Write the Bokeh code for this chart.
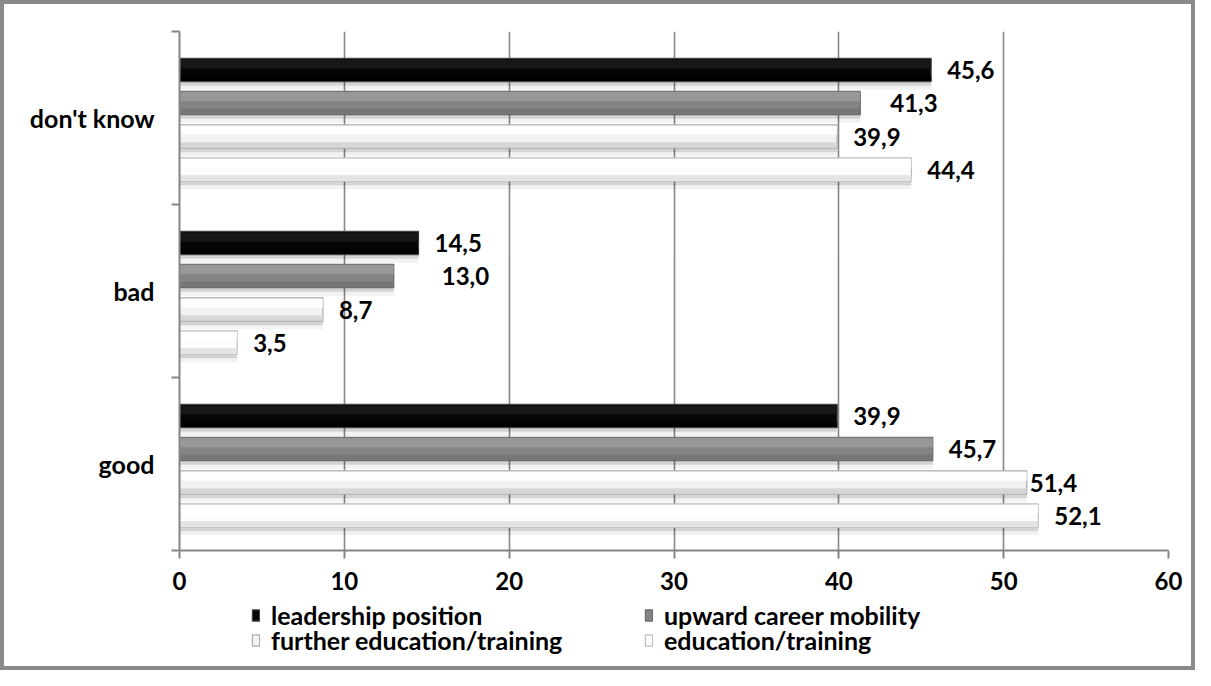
from bokeh.plotting import figure
from bokeh.layouts import column
from bokeh.models import FixedTicker, Legend, LegendItem, ColumnDataSource, Range1d
from bokeh.embed import file_html
from bokeh.resources import INLINE
from bokeh.core.properties import value

# ---------------- data ----------------
categories = ["good", "bad", "don't know"]
series_names = ["leadership position", "upward career mobility",
                "further education/training", "education/training"]
leadership_position = [39.9, 14.5, 45.6]
upward_career_mobility = [45.7, 13.0, 41.3]
further_education_training = [51.4, 8.7, 39.9]
education_training = [52.1, 3.5, 44.4]
x_ticks = [0, 10, 20, 30, 40, 50, 60]
# extra horizontal nudge (px) of each value label, as placed in the original
label_nudge_leadership = [0, 0, 0]
label_nudge_upward = [0, 32, 14]
label_nudge_further = [-13, 0, 0]
label_nudge_education = [0, 0, 0]

series_values = [leadership_position, upward_career_mobility,
                 further_education_training, education_training]
series_nudges = [label_nudge_leadership, label_nudge_upward,
                 label_nudge_further, label_nudge_education]

# ---------------- styles ----------------
FONT = "Lato"
FS = "24px"
offsets = [0.277, 0.087, -0.107, -0.298]   # position of each series within a category band
bar_h = 0.135
px = 1.0 / 173.0                          # one pixel in y units
styles = [
    dict(body="#050505", top="#1c1c1c", bottom="#000000", line="#444444"),
    dict(body="#848484", top="#9d9d9d", bottom="#747474", line="#6a6a6a"),
    dict(body="#f2f2f2", top="#ffffff", bottom="#d4d4d4", line="#ababab"),
    dict(body="#fcfcfc", top="#ffffff", bottom="#e0e0e0", line="#bcbcbc"),
]
# legend cell placement (px from the legend strip frame's bottom-left): 2 x 2 grid
legend_cells = [(72, 36), (465, 36), (72, 11), (465, 11)]

p = figure(width=1187, height=596, output_backend="svg", toolbar_location=None,
           x_range=Range1d(0, 60), y_range=Range1d(0, 3),
           min_border_left=175, min_border_right=23,
           min_border_top=27, min_border_bottom=50)
p.outline_line_color = None
p.background_fill_color = "white"
p.border_fill_color = "white"

for i, (vals, st, nud) in enumerate(zip(series_values, styles, series_nudges)):
    ys = [k + 0.5 + offsets[i] for k in range(len(categories))]
    src = ColumnDataSource(dict(y=ys, right=vals,
                                y_shadow1=[y - 4 * px for y in ys],
                                y_shadow2=[y - 8 * px for y in ys],
                                y_top=[y + bar_h / 2 - 5.5 * px for y in ys],
                                y_bot=[y - bar_h / 2 + 3.5 * px for y in ys],
                                label=[f"{v:.1f}".replace(".", ",") for v in vals],
                                nudge=[16 + n for n in nud]))
    # soft shadow below the bar
    p.hbar(y="y_shadow2", right="right", left=0, height=bar_h, source=src,
           fill_color="#000000", fill_alpha=0.05, line_color=None)
    p.hbar(y="y_shadow1", right="right", left=0, height=bar_h, source=src,
           fill_color="#000000", fill_alpha=0.12, line_color=None)
    # body
    p.hbar(y="y", right="right", left=0, height=bar_h, source=src,
           fill_color=st["body"], line_color=st["line"], line_width=1.2)
    # bevel highlight / lowlight
    p.hbar(y="y_top", right="right", left=0, height=9 * px, source=src,
           fill_color=st["top"], fill_alpha=0.8, line_color=None)
    p.hbar(y="y_bot", right="right", left=0, height=5 * px, source=src,
           fill_color=st["bottom"], fill_alpha=0.9, line_color=None)
    # value labels
    p.text(x="right", y="y", text="label", source=src, x_offset="nudge",
           text_font=value(FONT), text_font_style="bold", text_font_size=FS,
           text_color="#000000", text_baseline="middle", text_align="left")

# ---------------- axes & grid ----------------
p.xaxis.ticker = FixedTicker(ticks=x_ticks)
p.xaxis.axis_line_color = "#868686"
p.xaxis.axis_line_width = 2
p.xaxis.major_tick_line_color = "#868686"
p.xaxis.major_tick_line_width = 2
p.xaxis.major_tick_out = 8
p.xaxis.major_tick_in = 0
p.xaxis.minor_tick_line_color = None
p.xaxis.major_label_text_font = FONT
p.xaxis.major_label_text_font_style = "bold"
p.xaxis.major_label_text_font_size = FS
p.xaxis.major_label_text_color = "#000000"
p.xaxis.major_label_standoff = 13

p.yaxis.ticker = FixedTicker(ticks=[k + 0.5 for k in range(len(categories))],
                             minor_ticks=list(range(len(categories) + 1)))
p.yaxis.major_label_overrides = {k + 0.5: c for k, c in enumerate(categories)}
p.yaxis.axis_line_color = "#868686"
p.yaxis.axis_line_width = 2
p.yaxis.major_tick_line_color = None
p.yaxis.major_tick_out = 0
p.yaxis.major_tick_in = 0
p.yaxis.minor_tick_line_color = "#868686"
p.yaxis.minor_tick_line_width = 2
p.yaxis.minor_tick_out = 8
p.yaxis.minor_tick_in = 0
p.yaxis.major_label_text_font = FONT
p.yaxis.major_label_text_font_style = "bold"
p.yaxis.major_label_text_font_size = "25px"
p.yaxis.major_label_text_color = "#000000"
p.yaxis.major_label_standoff = 17

p.xgrid.ticker = FixedTicker(ticks=x_ticks[1:])
p.xgrid.grid_line_color = "#868686"
p.xgrid.grid_line_width = 1.6
p.ygrid.grid_line_color = None

# ---------------- legend strip ----------------
lf = figure(width=1187, height=66, output_backend="svg", toolbar_location=None,
            x_axis_type=None, y_axis_type=None, min_border=0,
            x_range=Range1d(0, 1), y_range=Range1d(0, 1))
lf.outline_line_color = None
lf.grid.visible = False
lf.background_fill_color = "white"
lf.border_fill_color = "white"
for i, st in enumerate(styles):
    # one off-screen bar per series, only so the legend can show its swatch
    r = lf.hbar(y=[-5], right=[0.5], left=0, height=1, fill_color=st["body"],
                line_color=st["line"], line_width=1.2)
    lg = Legend(items=[LegendItem(label=series_names[i], renderers=[r])],
                location=legend_cells[i],
                label_text_font=FONT, label_text_font_style="bold",
                label_text_font_size="25px", label_text_color="#000000",
                glyph_width=9, glyph_height=14, label_standoff=11,
                label_height=24, spacing=0, padding=0, margin=0,
                border_line_color=None, background_fill_alpha=0)
    lf.add_layout(lg, "center")

layout = column(p, lf, spacing=0)
layout.styles = {"border": "4px solid #8a8a8a"}

open("out.html", "w").write(file_html(layout, INLINE))
